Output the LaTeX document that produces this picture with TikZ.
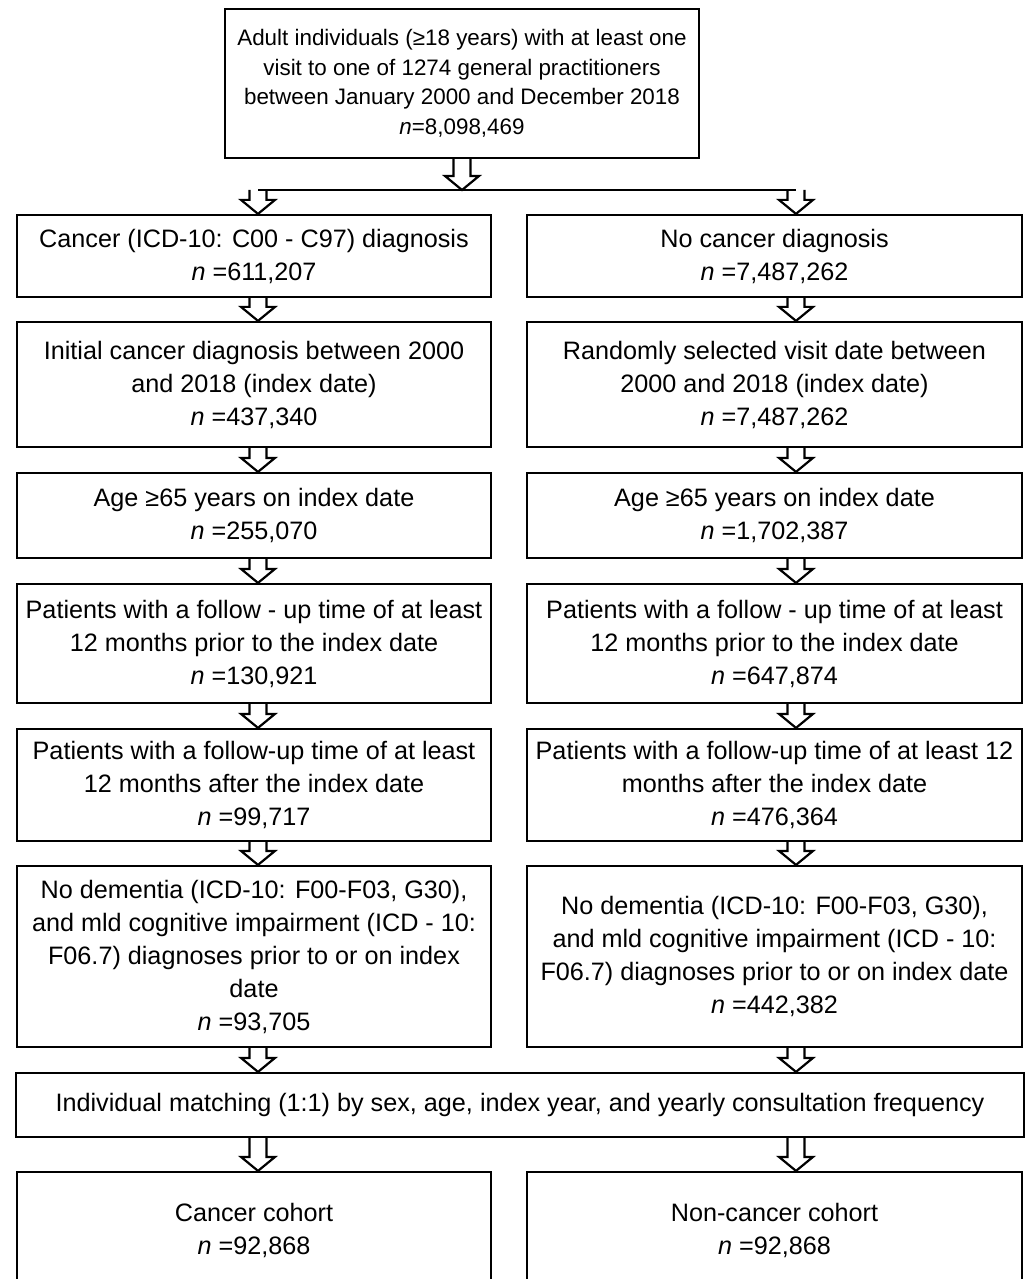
\documentclass[tikz,border=0pt]{standalone}
\usepackage{fontspec}
\setmainfont{Liberation Sans}
\usetikzlibrary{calc}

\newcommand\hollowto[2]{\draw let \p1=(#1), \p2=(#2) in
  (\x1-4.25bp,\y1) -- (\x1-4.25bp,\y2+7bp) -- (\x1-8.5bp,\y2+7bp) -- (\x1,\y2)
  -- (\x1+8.5bp,\y2+7bp) -- (\x1+4.25bp,\y2+7bp) -- (\x1+4.25bp,\y1);}

\begin{document}
\begin{tikzpicture}[x=0.5bp,y=-0.5bp,line width=1.1bp,
  leftcol/.style={minimum width=237bp},
  rightcol/.style={minimum width=247.5bp}]
\useasboundingbox (0,0) rectangle (1028,1279);
\clip (0,0) rectangle (1028,1279);
\coordinate (lx) at (258,0);
\coordinate (rx) at (796,0);
\coordinate (split) at (462,190);
\tikzstyle{every node}=[draw,align=center,inner sep=0pt,font=\fontsize{12.6bp}{16.5bp}\selectfont];
\node[minimum width=237bp,minimum height=74.5bp,font=\fontsize{11.2bp}{14.8bp}\selectfont] (top) at (462,83.5)
  {Adult individuals (≥18 years) with at least one\\visit to one of 1274 general practitioners\\between January 2000 and December 2018\\\textit{n}=8,098,469};
\node[leftcol,minimum height=41bp] (c1) at (254,256) {Cancer (ICD-10: C00 - C97) diagnosis\\\textit{n} =611,207};
\node[leftcol,minimum height=62.5bp] (c2) at (254,384.5) {Initial cancer diagnosis between 2000\\and 2018 (index date)\\\textit{n} =437,340};
\node[leftcol,minimum height=42.5bp] (c3) at (254,515.5) {Age ≥65 years on index date\\\textit{n} =255,070};
\node[leftcol,minimum height=59.5bp] (c4) at (254,643.5) {Patients with a follow - up time of at least\\12 months prior to the index date\\\textit{n} =130,921};
\node[leftcol,minimum height=56bp] (c5) at (254,785) {Patients with a follow-up time of at least\\12 months after the index date\\\textit{n} =99,717};
\node[leftcol,minimum height=90.5bp] (c6) at (254,956.5) {No dementia (ICD-10: F00-F03, G30),\\and mld cognitive impairment (ICD - 10:\\F06.7) diagnoses prior to or on index\\date\\\textit{n} =93,705};
\node[rightcol,minimum height=41bp] (n1) at (774.5,256) {No cancer diagnosis\\\textit{n} =7,487,262};
\node[rightcol,minimum height=62.5bp] (n2) at (774.5,384.5) {Randomly selected visit date between\\2000 and 2018 (index date)\\\textit{n} =7,487,262};
\node[rightcol,minimum height=42.5bp] (n3) at (774.5,515.5) {Age ≥65 years on index date\\\textit{n} =1,702,387};
\node[rightcol,minimum height=59.5bp] (n4) at (774.5,643.5) {Patients with a follow - up time of at least\\12 months prior to the index date\\\textit{n} =647,874};
\node[rightcol,minimum height=56bp] (n5) at (774.5,785) {Patients with a follow-up time of at least 12\\months after the index date\\\textit{n} =476,364};
\node[rightcol,minimum height=90.5bp] (n6) at (774.5,956.5) {No dementia (ICD-10: F00-F03, G30),\\and mld cognitive impairment (ICD - 10:\\F06.7) diagnoses prior to or on index date\\\textit{n} =442,382};
\node[minimum width=504bp,minimum height=32bp] (match) at (520,1105) {Individual matching (1:1) by sex, age, index year, and yearly consultation frequency};
\node[leftcol,minimum height=58bp] (cc) at (254,1230) {Cancer cohort\\\textit{n} =92,868};
\node[rightcol,minimum height=58bp] (nc) at (774.5,1230) {Non-cancer cohort\\\textit{n} =92,868};
\hollowto{top.south}{split}
\draw (split -| lx) -- (split -| rx);
\hollowto{split -| lx}{c1.north -| lx}
\hollowto{split -| rx}{n1.north -| rx}
\foreach \a/\b in {c1/c2,c2/c3,c3/c4,c4/c5,c5/c6,c6/match,match/cc}
  {\hollowto{\a.south -| lx}{\b.north -| lx}}
\foreach \a/\b in {n1/n2,n2/n3,n3/n4,n4/n5,n5/n6,n6/match,match/nc}
  {\hollowto{\a.south -| rx}{\b.north -| rx}}
\end{tikzpicture}
\end{document}
